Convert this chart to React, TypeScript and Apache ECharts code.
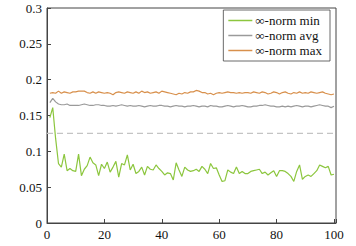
import React, { useEffect, useRef } from "react";
import * as echarts from "echarts";

const minNorm = [
  0.147, 0.161, 0.118, 0.083, 0.078, 0.096, 0.073, 0.076, 0.073, 0.072,
  0.096, 0.066, 0.075, 0.080, 0.092, 0.084, 0.081, 0.066, 0.082, 0.076,
  0.085, 0.071, 0.078, 0.086, 0.064, 0.083, 0.081, 0.095, 0.074, 0.082,
  0.069, 0.072, 0.078, 0.067, 0.079, 0.075, 0.074, 0.081, 0.076, 0.072,
  0.067, 0.070, 0.069, 0.060, 0.084, 0.074, 0.065, 0.078, 0.074, 0.072,
  0.073, 0.075, 0.072, 0.079, 0.075, 0.069, 0.083, 0.076, 0.077, 0.067,
  0.058, 0.059, 0.074, 0.071, 0.069, 0.078, 0.069, 0.072, 0.069, 0.069,
  0.072, 0.073, 0.074, 0.075, 0.069, 0.071, 0.067, 0.070, 0.073, 0.065,
  0.073, 0.073, 0.072, 0.069, 0.065, 0.058, 0.072, 0.081, 0.061, 0.065,
  0.067, 0.065, 0.069, 0.073, 0.081, 0.079, 0.077, 0.079, 0.067, 0.068,
];

const avgNorm = [
  0.168, 0.174, 0.169, 0.166, 0.165, 0.165, 0.166, 0.164, 0.164, 0.164,
  0.164, 0.165, 0.166, 0.165, 0.164, 0.164, 0.165, 0.165, 0.164, 0.164,
  0.163, 0.163, 0.164, 0.163, 0.164, 0.165, 0.164, 0.163, 0.164, 0.163,
  0.163, 0.164, 0.163, 0.162, 0.163, 0.164, 0.163, 0.163, 0.164, 0.164,
  0.163, 0.163, 0.162, 0.163, 0.164, 0.163, 0.163, 0.162, 0.163, 0.163,
  0.164, 0.163, 0.162, 0.163, 0.163, 0.162, 0.164, 0.163, 0.163, 0.162,
  0.162, 0.163, 0.164, 0.163, 0.162, 0.163, 0.163, 0.164, 0.163, 0.162,
  0.162, 0.163, 0.163, 0.164, 0.164, 0.165, 0.164, 0.163, 0.163, 0.162,
  0.162, 0.163, 0.162, 0.163, 0.162, 0.163, 0.164, 0.163, 0.162, 0.163,
  0.163, 0.162, 0.163, 0.164, 0.165, 0.164, 0.163, 0.163, 0.161, 0.163,
];

const maxNorm = [
  0.181, 0.182, 0.181, 0.184, 0.181, 0.183, 0.182, 0.181, 0.183, 0.183,
  0.184, 0.184, 0.184, 0.182, 0.181, 0.183, 0.181, 0.183, 0.182, 0.181,
  0.182, 0.181, 0.179, 0.182, 0.183, 0.182, 0.181, 0.183, 0.182, 0.181,
  0.183, 0.181, 0.184, 0.182, 0.183, 0.181, 0.182, 0.183, 0.181, 0.184,
  0.183, 0.182, 0.181, 0.180, 0.179, 0.181, 0.180, 0.182, 0.181, 0.183,
  0.183, 0.185, 0.184, 0.182, 0.182, 0.180, 0.181, 0.179, 0.181, 0.182,
  0.181, 0.182, 0.183, 0.182, 0.182, 0.181, 0.182, 0.181, 0.182, 0.182,
  0.181, 0.183, 0.182, 0.181, 0.183, 0.182, 0.180, 0.181, 0.183, 0.182,
  0.180, 0.182, 0.183, 0.181, 0.180, 0.182, 0.181, 0.183, 0.181, 0.182,
  0.181, 0.183, 0.182, 0.181, 0.182, 0.183, 0.181, 0.180, 0.179, 0.180,
];

const iterations = minNorm.map((_, i) => i + 1);
const threshold = 0.125;
const xTicks = [0, 20, 40, 60, 80, 100];
const seriesNames = ["∞-norm min", "∞-norm avg", "∞-norm max"];
const colors = ["#8cc63e", "#9a9a9a", "#d8904c"];

const FONT = "Liberation Serif";

export default function App() {
  const ref = useRef<HTMLDivElement>(null);

  useEffect(() => {
    if (!ref.current) return;
    const chart = echarts.init(ref.current, undefined, { renderer: "svg" });
    const pair = (arr: number[]) => arr.map((v, i) => [iterations[i], v]);
    const datasets = [minNorm, avgNorm, maxNorm];
    const X_MAX = 100.7;
    chart.setOption({
      animation: false,
      backgroundColor: "#ffffff",
      textStyle: { fontFamily: FONT },
      grid: {
        left: 47,
        top: 8,
        right: 20,
        bottom: 23,
        show: true,
        borderColor: "#444",
        borderWidth: 1,
        backgroundColor: "transparent",
      },
      legend: {
        orient: "vertical",
        right: 26,
        top: 10,
        data: seriesNames,
        icon: "rect",
        itemWidth: 24,
        itemHeight: 1.5,
        itemGap: 2,
        padding: [4, 8, 4, 5],
        borderColor: "#444",
        borderWidth: 0.8,
        backgroundColor: "#fff",
        textStyle: { fontFamily: FONT, fontSize: 13, color: "#111", padding: [0, 0, 0, -2] },
      },
      xAxis: {
        type: "value",
        min: 0,
        max: X_MAX,
        interval: 20,
        axisLine: { show: true, lineStyle: { color: "#444", width: 1 } },
        axisTick: { show: true, inside: true, length: 4, lineStyle: { color: "#444" } },
        splitLine: { show: false },
        axisLabel: {
          margin: 5,
          fontFamily: FONT,
          fontSize: 13,
          color: "#111",
          formatter: (v: number) => (xTicks.includes(v) ? String(v) : ""),
        },
      },
      yAxis: {
        type: "value",
        min: 0,
        max: 0.3,
        interval: 0.05,
        axisLine: { show: true, lineStyle: { color: "#444", width: 1 } },
        axisTick: { show: true, inside: true, length: 4, lineStyle: { color: "#444" } },
        splitLine: { show: false },
        axisLabel: {
          margin: 5,
          fontFamily: FONT,
          fontSize: 13,
          color: "#111",
          formatter: (v: number) => String(Math.round(v * 100) / 100),
        },
      },
      series: [
        {
          name: "threshold",
          type: "line",
          data: [
            [0, threshold],
            [X_MAX, threshold],
          ],
          showSymbol: false,
          symbol: "none",
          silent: true,
          lineStyle: { color: "#c4c4c4", type: [6, 4], width: 1.2 },
          z: 1,
        },
        ...datasets.map((d, k) => ({
          name: seriesNames[k],
          type: "line",
          data: pair(d),
          showSymbol: false,
          symbol: "none",
          color: colors[k],
          lineStyle: { color: colors[k], width: 1.2 },
          z: 3,
        })),
      ],
    });
    return () => chart.dispose();
  }, []);

  return (
    <div
      ref={ref}
      style={{ position: "fixed", left: 0, top: 0, width: 356, height: 246 }}
    />
  );
}
